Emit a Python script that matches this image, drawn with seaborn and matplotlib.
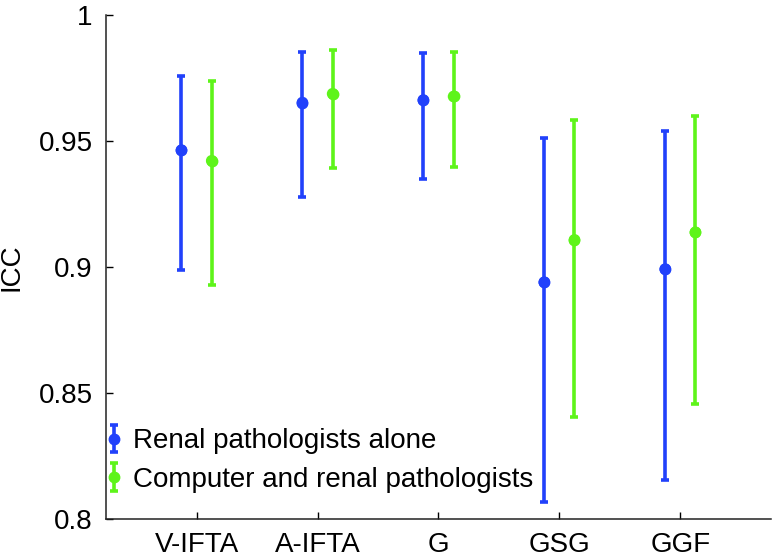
import numpy as np
import pandas as pd
import matplotlib
matplotlib.use("Agg")
import matplotlib.pyplot as plt
import seaborn as sns

# ── Data ──────────────────────────────────────────────────────────────────────
categories = ["V-IFTA", "A-IFTA", "G", "GSG", "GGF"]
groups     = ["Renal pathologists alone", "Computer and renal pathologists"]

alone_icc  = [0.9464, 0.9653, 0.9663, 0.8940, 0.8992]
alone_lo   = [0.8988, 0.9280, 0.9348, 0.8069, 0.8155]
alone_hi   = [0.9759, 0.9852, 0.9850, 0.9512, 0.9540]

comp_icc   = [0.9422, 0.9688, 0.9677, 0.9108, 0.9138]
comp_lo    = [0.8929, 0.9395, 0.9398, 0.8406, 0.8455]
comp_hi    = [0.9738, 0.9861, 0.9854, 0.9583, 0.9600]

colors = ["#2141fb", "#5ef41a"]
offset = 0.125

# ── Plot ──────────────────────────────────────────────────────────────────────
sns.set_theme(style="ticks")
plt.rcParams["font.family"] = ["Liberation Sans", "DejaVu Sans"]
plt.rcParams["text.color"] = "black"

fig, ax = plt.subplots(figsize=(7.73, 5.6), dpi=100)
fig.subplots_adjust(left=0.137, right=0.9974, bottom=0.0732, top=0.973)

series = [(alone_icc, alone_lo, alone_hi), (comp_icc, comp_lo, comp_hi)]
rows = []
handles = []
for g, (icc, lo, hi) in enumerate(series):
    shift = -offset if g == 0 else offset
    x = np.arange(1, len(categories) + 1) + shift
    icc, lo, hi = np.array(icc), np.array(lo), np.array(hi)
    h = ax.errorbar(x, icc, yerr=[icc - lo, hi - icc], fmt="o", color=colors[g],
                    ms=7.5, elinewidth=2.6, capsize=3, capthick=2.6, label=groups[g])
    handles.append(h)
    for xi, v in zip(x, icc):
        rows.append({"x": xi, "icc": v, "group": groups[g]})

df = pd.DataFrame(rows)
sns.scatterplot(data=df, x="x", y="icc", hue="group", palette=colors,
                s=70, edgecolor="none", legend=False, ax=ax, zorder=3)

ax.set_xlim(0.25, 5.75)
ax.set_ylim(0.8, 1.0)
ax.set_xticks(range(1, len(categories) + 1))
ax.set_xticklabels(categories)
ax.set_yticks([0.8, 0.85, 0.9, 0.95, 1.0])
ax.set_yticklabels(["0.8", "0.85", "0.9", "0.95", "1"])
ax.set_xlabel("")
ax.set_ylabel("ICC", fontsize=20, color="black")
ax.yaxis.set_label_coords(-0.122, 0.5)
ax.tick_params(direction="in", length=5, width=1, labelsize=20, colors="black", pad=9.5)

sns.despine(ax=ax)
for side in ["left", "bottom"]:
    ax.spines[side].set_linewidth(1.1)
    ax.spines[side].set_color("#222222")

leg = ax.legend(handles=handles, labels=groups, loc="lower left", frameon=False,
                fontsize=20, handlelength=0.5, handletextpad=0.45, labelspacing=0.45,
                borderaxespad=0.0, bbox_to_anchor=(-0.015, 0.03))
for t in leg.get_texts():
    t.set_color("black")

plt.savefig("out.png", dpi=100)
plt.close()
